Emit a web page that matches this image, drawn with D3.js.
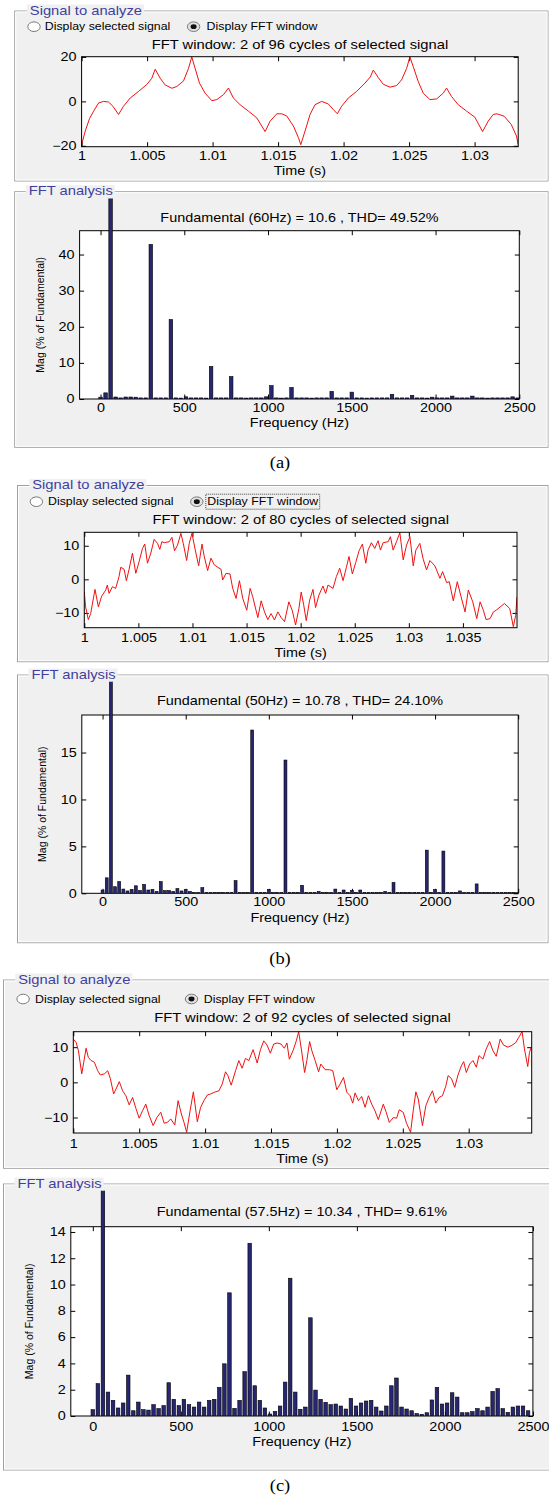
<!DOCTYPE html>
<html>
<head>
<meta charset="utf-8">
<title>FFT analysis of three signals</title>
<script src="https://cdnjs.cloudflare.com/ajax/libs/d3/7.8.5/d3.min.js"></script>
<style>
  body { margin: 0; background: #fff; }
  svg { display: block; }
</style>
</head>
<body>
<div id="chart"></div>
<script>
// ---- data ----

// (a) 60 Hz, 2 of 96 cycles: [time (s), value]
const signalA = [[1.0,-19.5],[1.00028,-13.3],[1.00061,-7.7],[1.00092,-4.4],[1.0013,-0.7],[1.00168,0.0],[1.00206,-0.3],[1.00239,-2.2],[1.00282,-5.9],[1.0032,-2.2],[1.00371,1.5],[1.00435,4.5],[1.00498,7.6],[1.00536,10.4],[1.00562,14.5],[1.006,10.4],[1.00638,7.4],[1.00689,5.9],[1.00727,6.7],[1.00778,9.2],[1.00816,14.8],[1.00841,20.0],[1.00867,14.8],[1.009,8.2],[1.00943,3.7],[1.00994,0.3],[1.01032,0.8],[1.01083,3.0],[1.01121,6.0],[1.01159,1.5],[1.0121,-1.5],[1.01274,-4.4],[1.01337,-7.4],[1.01401,-13.6],[1.01439,-8.9],[1.0149,-5.6],[1.01528,-5.6],[1.01566,-6.6],[1.01617,-11.1],[1.01655,-16.3],[1.01673,-19.5],[1.01706,-13.3],[1.01744,-5.9],[1.01782,-1.5],[1.01833,0.0],[1.01884,-1.2],[1.01922,-3.7],[1.01952,-5.6],[1.01985,-2.2],[1.02036,1.5],[1.021,4.5],[1.02163,8.2],[1.02204,11.0],[1.02227,14.1],[1.02265,10.7],[1.02303,7.7],[1.02354,6.4],[1.02405,7.1],[1.02443,9.7],[1.02481,14.8],[1.02506,20.0],[1.02532,15.6],[1.0257,8.9],[1.02608,3.7],[1.02659,0.8],[1.0271,1.1],[1.02761,3.7],[1.02786,6.0],[1.02824,2.2],[1.02875,-1.5],[1.02939,-4.4],[1.03002,-7.1],[1.03061,-13.6],[1.03104,-8.9],[1.03142,-5.9],[1.03172,-5.6],[1.03226,-6.7],[1.0328,-10.4],[1.0332,-15.6],[1.03333,-19.5]];

// (a) spectrum, one value per 30 Hz bin (% of fundamental)
const binA = 30;
const spectrumA = [0.5,1.7,100,0.55,0.3,0.55,0.55,0.5,0.3,0.3,
  42.8,0.3,0.3,0.3,22.0,0.3,0.25,0.6,0.3,0.3,
  0.3,0.25,9.0,0.3,0.3,0.3,6.2,0.3,0.3,0.25,
  0.3,0.3,0.3,0.6,3.7,0.3,0.25,0.3,3.2,0.3,
  0.3,0.3,0.25,0.3,0.3,0.3,2.1,0.3,0.3,0.3,
  1.9,0.3,0.3,0.25,0.3,0.3,0.3,0.3,1.3,0.3,
  0.3,0.3,1.0,0.3,0.3,0.25,0.5,0.3,0.3,0.3,
  0.8,0.3,0.3,0.3,0.8,0.3,0.3,0.25,0.3,0.3,
  0.3,0.3,0.6,0.3];

// (b) 50 Hz, 2 of 80 cycles
const signalB = [[1.0,-3.7],[1.00012,-8.2],[1.00037,-12.0],[1.00059,-10.2],[1.00099,-3.0],[1.0013,-8.2],[1.00161,-5.0],[1.00198,-3.2],[1.00213,-1.7],[1.00229,-4.2],[1.0026,-2.2],[1.0029,-2.7],[1.00321,0.8],[1.00337,3.6],[1.00368,3.0],[1.00389,-0.4],[1.00414,3.0],[1.00445,7.8],[1.00476,1.8],[1.00507,5.3],[1.00538,9.2],[1.00559,10.5],[1.00584,4.8],[1.00615,7.8],[1.00646,11.9],[1.00677,10.7],[1.00698,8.9],[1.00717,11.2],[1.00739,10.9],[1.00785,11.2],[1.0081,12.5],[1.00834,8.5],[1.00862,10.2],[1.00893,13.7],[1.00915,10.7],[1.00946,5.6],[1.0097,10.7],[1.00995,13.7],[1.01026,8.7],[1.01057,4.0],[1.01088,10.5],[1.01109,6.8],[1.0114,2.6],[1.01171,6.3],[1.01202,4.3],[1.01233,3.6],[1.01264,3.0],[1.01279,-0.2],[1.0131,1.8],[1.01347,1.6],[1.01372,-2.7],[1.01403,-5.7],[1.01434,-0.4],[1.01465,-5.7],[1.01502,-9.2],[1.01533,-2.7],[1.01557,-5.2],[1.01604,-11.4],[1.01635,-6.4],[1.01666,-9.7],[1.01696,-12.0],[1.01727,-10.2],[1.01758,-12.1],[1.01789,-9.7],[1.0182,-11.4],[1.01851,-12.6],[1.01891,-6.7],[1.01922,-9.2],[1.01953,-13.6],[1.01984,-8.7],[1.02005,-3.8],[1.02027,-7.4],[1.02052,-12.3],[1.02083,-6.2],[1.02114,-3.0],[1.02138,-8.4],[1.02169,-4.7],[1.02206,-2.0],[1.02231,-4.2],[1.02253,-1.7],[1.02299,-2.7],[1.0233,0.8],[1.02361,3.3],[1.02392,-0.4],[1.02423,3.6],[1.02447,6.8],[1.02478,1.6],[1.02509,5.0],[1.0254,8.5],[1.02571,10.5],[1.02602,4.8],[1.02623,8.7],[1.02654,10.9],[1.02685,9.2],[1.02716,11.5],[1.02738,8.7],[1.02762,10.9],[1.02809,11.2],[1.0283,12.7],[1.02855,8.7],[1.02886,11.2],[1.02917,13.9],[1.02948,5.8],[1.02979,10.2],[1.0301,12.7],[1.03041,4.0],[1.03065,8.7],[1.03102,10.7],[1.03133,6.0],[1.03164,2.8],[1.03195,5.6],[1.03241,4.0],[1.03288,0.3],[1.03312,2.3],[1.0335,-1.0],[1.03374,-0.7],[1.03411,-6.4],[1.03448,-0.7],[1.03479,-4.7],[1.0352,-9.7],[1.0355,-3.2],[1.03591,-6.7],[1.03628,-11.7],[1.03659,-6.7],[1.03689,-9.2],[1.03714,-12.0],[1.03751,-11.7],[1.03782,-9.7],[1.03807,-9.2],[1.03884,-7.2],[1.03933,-8.7],[1.03966,-14.1],[1.03988,-10.7],[1.04,-5.2]];

// (b) spectrum, 25 Hz bins
const binB = 25;
const spectrumB = [0.35,1.65,100,0.7,1.25,0.45,0.25,0.42,0.8,0.3,
  0.95,0.35,0.42,0.2,1.25,0.28,0.3,0.2,0.5,0.25,
  0.42,0.2,0.1,0.1,0.6,0.1,0.1,0.1,0.1,0.1,
  0.1,0.1,1.35,0.1,0.1,0.1,17.4,0.1,0.1,0.1,
  0.42,0.1,0.1,0.1,14.2,0.1,0.1,0.1,0.85,0.1,
  0.1,0.1,0.2,0.1,0.1,0.1,0.45,0.1,0.35,0.1,
  0.3,0.1,0.35,0.1,0.1,0.1,0.1,0.1,0.2,0.1,
  1.15,0.1,0.1,0.1,0.1,0.1,0.1,0.1,4.6,0.1,
  0.4,0.1,4.5,0.1,0.1,0.1,0.25,0.1,0.1,0.1,
  1.0,0.1,0.1,0.1,0.1,0.1,0.1,0.1,0.1,0.1,
  0.1];

// (c) 57.5 Hz, 2 of 92 cycles
const signalC = [[1.0,12.3],[1.00021,11.4],[1.00039,9.0],[1.00064,2.4],[1.00079,5.7],[1.00097,9.7],[1.00114,7.1],[1.00135,6.2],[1.0016,5.7],[1.00185,3.3],[1.00205,2.1],[1.00235,2.4],[1.00261,3.3],[1.00281,1.1],[1.00306,-3.3],[1.00324,-1.9],[1.00349,0.2],[1.00374,-2.4],[1.00399,-3.8],[1.00424,-6.4],[1.0045,-4.3],[1.00475,-7.4],[1.005,-10.2],[1.00525,-8.1],[1.0055,-6.2],[1.00576,-9.5],[1.00606,-12.3],[1.00634,-10.0],[1.00664,-8.5],[1.00689,-11.6],[1.00714,-11.4],[1.00739,-10.4],[1.0077,-12.1],[1.00795,-5.2],[1.0082,-9.0],[1.0084,-11.4],[1.0086,-14.2],[1.00886,-8.1],[1.00911,-2.7],[1.00941,-11.2],[1.00966,-7.1],[1.00991,-5.2],[1.01017,-3.6],[1.01042,-3.3],[1.01072,-2.8],[1.01105,-2.4],[1.0113,-0.5],[1.01155,3.0],[1.01173,1.9],[1.01198,-0.8],[1.01231,3.3],[1.01256,6.2],[1.01281,4.0],[1.01306,6.8],[1.01332,6.2],[1.01364,9.3],[1.01395,5.5],[1.0142,9.3],[1.01445,11.8],[1.0147,10.6],[1.01495,8.3],[1.01521,10.9],[1.01546,11.2],[1.01576,10.9],[1.01601,9.7],[1.01621,11.2],[1.01639,6.6],[1.01667,9.0],[1.01692,11.8],[1.0171,14.4],[1.0173,9.5],[1.01755,2.8],[1.01772,6.2],[1.01793,11.6],[1.0181,9.0],[1.01835,6.2],[1.01861,3.0],[1.01878,5.2],[1.01911,3.6],[1.01944,3.6],[1.01969,3.3],[1.01999,-2.1],[1.02024,-0.5],[1.0205,1.4],[1.02075,-2.8],[1.021,-3.8],[1.0212,-5.9],[1.02138,-3.0],[1.02163,-5.2],[1.02188,-4.0],[1.02214,-7.1],[1.02239,-3.8],[1.02264,-6.2],[1.02289,-8.1],[1.02314,-10.6],[1.02352,-6.2],[1.02372,-8.3],[1.02398,-11.4],[1.02428,-10.0],[1.02453,-10.2],[1.02473,-7.8],[1.02503,-8.5],[1.02528,-11.6],[1.02559,-14.2],[1.02579,-8.1],[1.02599,-2.7],[1.02617,-4.7],[1.02649,-12.3],[1.02675,-6.6],[1.027,-4.3],[1.02725,-2.4],[1.0275,-5.9],[1.02775,-4.3],[1.02801,-3.8],[1.02826,-1.1],[1.02844,1.9],[1.02869,1.1],[1.02894,-1.4],[1.02919,2.1],[1.02944,4.7],[1.02962,5.9],[1.02982,2.8],[1.03007,5.2],[1.03032,6.2],[1.03058,4.3],[1.03078,7.6],[1.03108,6.6],[1.03133,9.5],[1.03159,11.6],[1.03184,9.0],[1.03209,7.4],[1.03239,12.3],[1.03264,10.6],[1.03297,10.0],[1.03322,10.4],[1.03355,11.2],[1.03385,13.1],[1.03405,14.4],[1.03423,9.5],[1.03448,4.5],[1.03461,8.5],[1.03474,10.0]];

// (c) spectrum, 28.75 Hz bins
const binC = 28.75;
const spectrumC = [0.48,2.46,100,1.82,1.19,0.61,0.99,3.11,0.4,1.06,
  0.48,0.45,0.86,0.56,0.79,2.53,1.27,0.79,1.27,0.86,
  0.68,1.06,0.68,1.19,1.27,2.18,3.97,9.37,0.58,1.19,
  3.37,13.14,2.3,1.19,0.61,0.15,0.35,0.76,2.58,10.48,
  1.82,0.51,0.68,7.47,1.97,1.27,1.04,0.86,0.91,0.76,
  0.53,1.34,0.76,0.99,1.14,1.19,0.68,0.38,0.76,2.3,
  2.89,0.68,0.53,0.4,0.18,0.13,0.25,1.22,2.18,0.91,
  0.99,1.77,1.44,0.25,0.25,0.33,0.56,0.4,0.68,1.87,
  2.08,0.56,0.28,0.68,0.76,0.76,0.4];

// axis limits and ticks
const timeTicksA = [1, 1.005, 1.01, 1.015, 1.02, 1.025, 1.03];
const timeTicksB = [1, 1.005, 1.01, 1.015, 1.02, 1.025, 1.03, 1.035];
const timeTicksC = [1, 1.005, 1.01, 1.015, 1.02, 1.025, 1.03];
const freqTicks = [0, 500, 1000, 1500, 2000, 2500];
const freqDomain = [-125, 2500];
const sigTicksA = [-20, 0, 20];
const sigTicksBC = [-10, 0, 10];
const magTicksA = [0, 10, 20, 30, 40];
const magTicksB = [0, 5, 10, 15];
const magTicksC = [0, 2, 4, 6, 8, 10, 12, 14];

const windowTitles = [
  "FFT window: 2 of 96 cycles of selected signal",
  "FFT window: 2 of 80 cycles of selected signal",
  "FFT window: 2 of 92 cycles of selected signal"
];
const fftTitles = [
  "Fundamental (60Hz) = 10.6 , THD= 49.52%",
  "Fundamental (50Hz) = 10.78 , THD= 24.10%",
  "Fundamental (57.5Hz) = 10.34 , THD= 9.61%"
];
const captions = ["(a)", "(b)", "(c)"];

// ---- layout (pixels) ----
const panels = [
  { sig: signalA, tDomain: [1, 1.03333], tTicks: timeTicksA, sigY: [-20.4, 20.1], sigTicks: sigTicksA,
    spec: spectrumA, bin: binA, magMax: 46.6, magTicks: magTicksA,
    sigBox: { x0: 14.7, y0: 11, x1: 548, y1: 181, tx: 29.8 },
    radioY: 26.7, r1: 34, l1: 44.8, r2: 193.6, l2: 206.6, focus: false,
    sigPlot: { x0: 81.6, x1: 518.2, y0: 56.7, y1: 146.7, titleY: 44.3, tickY: 156, labelY: 170.7 },
    fftBox: { x0: 14.7, y0: 191.7, x1: 548, y1: 447.3, tx: 28.7 },
    fftPlot: { x0: 79.6, x1: 519.3, y0: 230.7, y1: 399, titleY: 217.3, tickY: 408.3, labelY: 422.3, yLabelX: 40.3 },
    capY: 462.7 },
  { sig: signalB, tDomain: [1, 1.04], tTicks: timeTicksB, sigY: [-14.4, 14.0], sigTicks: sigTicksBC,
    spec: spectrumB, bin: binB, magMax: 19, magTicks: magTicksB,
    sigBox: { x0: 17.5, y0: 485.5, x1: 548, y1: 661.7, tx: 32.2 },
    radioY: 501.7, r1: 36.4, l1: 48, r2: 196.8, l2: 207.3, focus: true,
    sigPlot: { x0: 84.3, x1: 517, y0: 532.3, y1: 627.7, titleY: 519.3, tickY: 638.3, labelY: 652.3 },
    fftBox: { x0: 17.5, y0: 675, x1: 548, y1: 942.7, tx: 31.5 },
    fftPlot: { x0: 81.8, x1: 518.2, y0: 715, y1: 893.3, titleY: 701, tickY: 902.3, labelY: 917.7, yLabelX: 42.7 },
    capY: 958.3 },
  { sig: signalC, tDomain: [1, 1.03478], tTicks: timeTicksC, sigY: [-14.4, 14.4], sigTicks: sigTicksBC,
    spec: spectrumC, bin: binC, magMax: 14.4, magTicks: magTicksC,
    sigBox: { x0: 3.5, y0: 980, x1: 552, y1: 1168.3, tx: 18.2 },
    radioY: 999, r1: 23.1, l1: 35, r2: 191.5, l2: 203.8, focus: false,
    sigPlot: { x0: 73.3, x1: 531.7, y0: 1031.7, y1: 1133, titleY: 1017.7, tickY: 1144.3, labelY: 1158.3 },
    fftBox: { x0: 3.5, y0: 1184, x1: 552, y1: 1470, tx: 17.5 },
    fftPlot: { x0: 70.8, x1: 532.9, y0: 1226.7, y1: 1416, titleY: 1211.7, tickY: 1426.7, labelY: 1441.7, yLabelX: 29.8 },
    capY: 1485 }
];

const FONT = '"Liberation Sans", Arial, sans-serif';
const SERIF = '"Liberation Serif", "Times New Roman", serif';
const SX = 1.2; // the source picture is stretched sideways
const TICK = 4.5;

const svg = d3.select("#chart").append("svg")
  .attr("width", 549).attr("height", 1497)
  .attr("font-family", FONT);

function txt(parent, x, y, str, o = {}) {
  return parent.append("text")
    .attr("transform", `translate(${x},${y}) scale(${o.sx ?? SX},1)`)
    .attr("text-anchor", o.anchor || "start")
    .attr("dy", "0.35em")
    .attr("font-size", o.size || 12)
    .attr("font-family", o.family || FONT)
    .attr("fill", o.fill || "#000")
    .text(str);
}

function groupBox(b, title) {
  svg.append("rect")
    .attr("x", b.x0).attr("y", b.y0)
    .attr("width", b.x1 - b.x0).attr("height", b.y1 - b.y0)
    .attr("fill", "#f0f0f0").attr("stroke", "#a0a0a0");
  svg.append("rect")
    .attr("x", b.x0 + 1).attr("y", b.y0 + 1)
    .attr("width", b.x1 - b.x0 - 2).attr("height", b.y1 - b.y0 - 2)
    .attr("fill", "none").attr("stroke", "#fff");
  const bg = svg.append("rect").attr("fill", "#f0f0f0");
  const t = txt(svg, b.tx, b.y0 - 0.7, title, { size: 12.5, sx: 1.18, fill: "#3f3f9f" });
  const w = t.node().getComputedTextLength() * 1.18;
  bg.attr("x", b.tx - 3).attr("y", b.y0 - 6.5).attr("width", w + 5).attr("height", 12.5);
}

function radio(cx, cy, on) {
  svg.append("ellipse").attr("cx", cx).attr("cy", cy).attr("rx", 6.2).attr("ry", 4.8)
    .attr("fill", on ? "#e2e2e2" : "#fff").attr("stroke", "#7a7a7a");
  if (on) {
    svg.append("ellipse").attr("cx", cx).attr("cy", cy).attr("rx", 3).attr("ry", 2.4).attr("fill", "#111");
  }
}

function axes(x, y, L, xTicks, yTicks, fmt) {
  const tidy = g => {
    g.select(".domain").remove();
    g.attr("font-family", FONT).attr("font-size", 12);
  };
  svg.append("g").attr("transform", `translate(0,${L.y1})`)
    .call(d3.axisBottom(x).tickValues(xTicks).tickSizeInner(-TICK).tickSizeOuter(0).tickFormat(fmt))
    .call(tidy)
    .call(g => g.selectAll(".tick text")
      .attr("y", L.tickY - L.y1).attr("dy", "0.35em").attr("transform", `scale(${SX},1)`));
  svg.append("g").attr("transform", `translate(0,${L.y0})`)
    .call(d3.axisTop(x).tickValues(xTicks).tickSizeInner(-TICK).tickSizeOuter(0).tickFormat(""))
    .call(tidy);
  svg.append("g").attr("transform", `translate(${L.x0},0)`)
    .call(d3.axisLeft(y).tickValues(yTicks).tickSizeInner(-TICK).tickSizeOuter(0).tickPadding(5 / SX))
    .call(tidy)
    .call(g => g.selectAll(".tick text").attr("transform", `scale(${SX},1)`));
  svg.append("g").attr("transform", `translate(${L.x1},0)`)
    .call(d3.axisRight(y).tickValues(yTicks).tickSizeInner(-TICK).tickSizeOuter(0).tickFormat(""))
    .call(tidy);
}

function frame(L) {
  svg.append("rect").attr("x", L.x0).attr("y", L.y0)
    .attr("width", L.x1 - L.x0).attr("height", L.y1 - L.y0)
    .attr("fill", "none").attr("stroke", "#000");
}

panels.forEach((p, i) => {
  // ---- signal to analyze ----
  groupBox(p.sigBox, "Signal to analyze");
  radio(p.r1, p.radioY, false);
  txt(svg, p.l1, p.radioY, "Display selected signal", { size: 10.3 });
  radio(p.r2, p.radioY, true);
  const lab = txt(svg, p.l2, p.radioY, "Display FFT window", { size: 10.3 });
  if (p.focus) {
    const w = lab.node().getComputedTextLength() * SX;
    svg.append("rect").attr("x", p.l2 - 1.5).attr("y", p.radioY - 7.5)
      .attr("width", w + 3).attr("height", 15)
      .attr("fill", "none").attr("stroke", "#444").attr("stroke-dasharray", "1,1");
  }

  const S = p.sigPlot;
  const xs = d3.scaleLinear().domain(p.tDomain).range([S.x0, S.x1]);
  const ys = d3.scaleLinear().domain(p.sigY).range([S.y1, S.y0]);
  svg.append("rect").attr("x", S.x0).attr("y", S.y0)
    .attr("width", S.x1 - S.x0).attr("height", S.y1 - S.y0).attr("fill", "#fff");
  axes(xs, ys, S, p.tTicks, p.sigTicks, t => String(+t.toFixed(3)));
  svg.append("clipPath").attr("id", "sclip" + i).append("rect")
    .attr("x", S.x0).attr("y", S.y0 - 1).attr("width", S.x1 - S.x0).attr("height", S.y1 - S.y0 + 2);
  svg.append("path").datum(p.sig)
    .attr("clip-path", `url(#sclip${i})`)
    .attr("d", d3.line().x(d => xs(d[0])).y(d => ys(d[1])))
    .attr("fill", "none").attr("stroke", "#f01010").attr("stroke-width", 1);
  frame(S);
  txt(svg, (S.x0 + S.x1) / 2, S.titleY, windowTitles[i], { size: 12.3, anchor: "middle" });
  txt(svg, (S.x0 + S.x1) / 2, S.labelY, "Time (s)", { size: 12, anchor: "middle" });

  // ---- FFT analysis ----
  groupBox(p.fftBox, "FFT analysis");
  const F = p.fftPlot;
  const xf = d3.scaleLinear().domain(freqDomain).range([F.x0, F.x1]);
  const yf = d3.scaleLinear().domain([0, p.magMax]).range([F.y1, F.y0]);
  svg.append("rect").attr("x", F.x0).attr("y", F.y0)
    .attr("width", F.x1 - F.x0).attr("height", F.y1 - F.y0).attr("fill", "#fff");
  axes(xf, yf, F, freqTicks, p.magTicks, d3.format("d"));
  frame(F);
  // the fundamental bar runs out of the axes up to the group frame
  svg.append("clipPath").attr("id", "fclip" + i).append("rect")
    .attr("x", F.x0).attr("y", p.fftBox.y0 + 6.7)
    .attr("width", F.x1 - F.x0).attr("height", F.y1 - p.fftBox.y0 - 6.7);
  const bw = (xf(p.bin) - xf(0)) * 0.7;
  svg.append("g").attr("clip-path", `url(#fclip${i})`)
    .selectAll("rect").data(p.spec).join("rect")
    .attr("x", (d, k) => xf(k * p.bin) - bw / 2)
    .attr("y", d => yf(d))
    .attr("width", bw)
    .attr("height", d => yf(0) - yf(d))
    .attr("fill", "#262673").attr("stroke", "#000").attr("stroke-width", 0.6);
  txt(svg, (F.x0 + F.x1) / 2, F.titleY, fftTitles[i], { size: 12, anchor: "middle" });
  txt(svg, (F.x0 + F.x1) / 2, F.labelY, "Frequency (Hz)", { size: 12, anchor: "middle" });
  svg.append("text")
    .attr("transform", `translate(${F.yLabelX},${(F.y0 + F.y1) / 2}) rotate(-90)`)
    .attr("text-anchor", "middle").attr("dy", "0.35em")
    .attr("font-size", 10.5).attr("fill", "#000")
    .text("Mag (% of Fundamental)");

  txt(svg, 280, p.capY, captions[i], { size: 16, sx: 1.15, anchor: "middle", family: SERIF });
});
</script>
</body>
</html>
